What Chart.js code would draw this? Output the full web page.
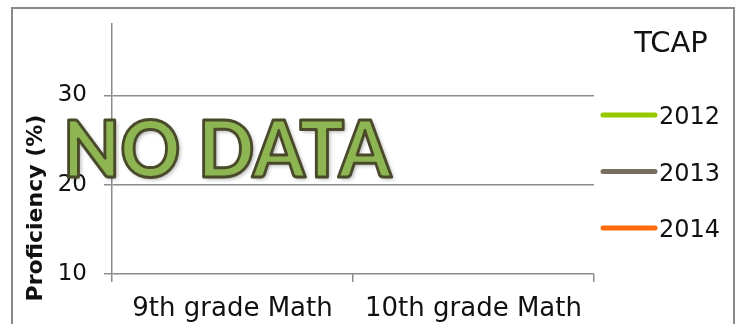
<!DOCTYPE html>
<html>
<head>
<meta charset="utf-8">
<script src="https://cdn.jsdelivr.net/npm/chart.js@4/dist/chart.umd.min.js"></script>
<style>
  html, body { margin: 0; padding: 0; background: #fff; }
  #wrap { position: relative; width: 739px; height: 324px; }
</style>
</head>
<body>
<div id="wrap"><canvas id="c" width="739" height="324"></canvas></div>
<script>
// ---- data ----
const categories = ['9th grade Math', '10th grade Math'];
const seriesNames = ['2012', '2013', '2014'];
const values2012 = [null, null];
const values2013 = [null, null];
const values2014 = [null, null];
const yTickValues = [10, 20, 30];
const legendTitle = 'TCAP';
const yAxisTitle = 'Proficiency (%)';
const overlayText = 'NO DATA';

const FONT = '"DejaVu Sans", sans-serif';
const GRID = '#8c8c8c';

const decorPlugin = {
  id: 'decor',
  beforeDraw(chart) {
    const ctx = chart.ctx;
    ctx.save();
    ctx.strokeStyle = '#8a8a8a';
    ctx.lineWidth = 2;
    ctx.strokeRect(12, 8, 722, 400);
    ctx.restore();
  },
  afterDraw(chart) {
    const ctx = chart.ctx;
    const area = chart.chartArea;
    const y = chart.scales.y;
    // y axis title
    ctx.save();
    ctx.translate(36, 208);
    ctx.rotate(-Math.PI / 2);
    ctx.font = 'bold 22px ' + FONT;
    ctx.fillStyle = '#111';
    ctx.textAlign = 'center';
    ctx.textBaseline = 'middle';
    ctx.fillText(yAxisTitle, 0, 0);
    ctx.restore();

    // legend
    ctx.save();
    ctx.fillStyle = '#111';
    ctx.font = '29px ' + FONT;
    ctx.textAlign = 'center';
    ctx.textBaseline = 'middle';
    ctx.fillText(legendTitle, 671, 44);
    ctx.font = '24px ' + FONT;
    ctx.textAlign = 'left';
    chart.data.datasets.forEach((ds, i) => {
      const ly = 115 + i * 56.5;
      ctx.strokeStyle = ds.borderColor;
      ctx.lineWidth = 5;
      ctx.lineCap = 'round';
      ctx.beginPath();
      ctx.moveTo(603, ly);
      ctx.lineTo(655, ly);
      ctx.stroke();
      ctx.fillStyle = '#111';
      ctx.fillText(ds.label, 659, ly + 3);
    });
    ctx.restore();

    // NO DATA overlay
    ctx.save();
    ctx.font = '900 78px Lato, ' + FONT;
    const w = ctx.measureText(overlayText).width;
    const targetW = 328;
    const sx = targetW / w;
    const baseY = y.getPixelForValue(20.85);
    const left = area.left - 49;
    ctx.translate(left, baseY);
    ctx.scale(sx, 1);
    ctx.textBaseline = 'alphabetic';
    ctx.textAlign = 'left';
    ctx.lineJoin = 'round';
    ctx.shadowColor = 'rgba(0,0,0,0.35)';
    ctx.shadowBlur = 4;
    ctx.shadowOffsetX = 2;
    ctx.shadowOffsetY = 2;
    ctx.fillStyle = '#8db653';
    ctx.fillText(overlayText, 0, 0);
    ctx.shadowColor = 'transparent';
    ctx.strokeStyle = '#4a4a2b';
    ctx.lineWidth = 3;
    ctx.strokeText(overlayText, 0, 0);
    ctx.restore();
  }
};

new Chart(document.getElementById('c'), {
  type: 'line',
  data: {
    labels: categories,
    datasets: [
      { label: seriesNames[0], data: values2012, borderColor: '#96c800', backgroundColor: '#96c800', borderWidth: 5 },
      { label: seriesNames[1], data: values2013, borderColor: '#776e5f', backgroundColor: '#776e5f', borderWidth: 5 },
      { label: seriesNames[2], data: values2014, borderColor: '#ff6a0d', backgroundColor: '#ff6a0d', borderWidth: 5 }
    ]
  },
  options: {
    responsive: false,
    animation: false,
    devicePixelRatio: 1,
    layout: { padding: { top: 24, right: 145, bottom: 0, left: 0 } },
    plugins: { legend: { display: false }, tooltip: { enabled: false } },
    scales: {
      x: {
        type: 'category',
        offset: true,
        grid: { offset: true, drawOnChartArea: false, drawTicks: true, tickLength: 8, color: GRID, lineWidth: 1.5 },
        border: { display: false },
        ticks: { font: { family: FONT, size: 26 }, color: '#111', padding: 12, maxRotation: 0, autoSkip: false },
        afterFit: s => { s.height = 50; s.paddingLeft = 0; s.paddingRight = 0; }
      },
      y: {
        min: 10,
        max: 38,
        afterBuildTicks: s => { s.ticks = yTickValues.map(v => ({ value: v })); },
        grid: { color: GRID, tickLength: 8, lineWidth: 1.5 },
        border: { display: true, color: GRID, width: 1.5 },
        ticks: { font: { family: FONT, size: 23 }, color: '#111', padding: 17 },
        afterFit: s => { s.width = 112; s.paddingTop = 0; s.paddingBottom = 0; }
      }
    }
  },
  plugins: [decorPlugin]
});
</script>
</body>
</html>
